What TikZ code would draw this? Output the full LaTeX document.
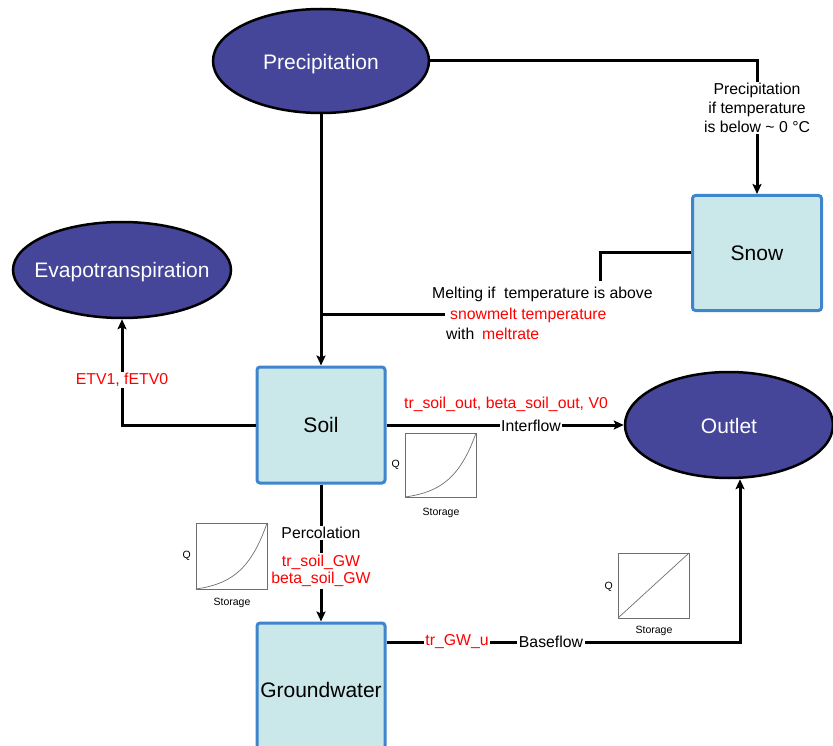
\documentclass[tikz,border=0pt]{standalone}
\usepackage{fontspec}
\setmainfont{Liberation Sans}
\usetikzlibrary{shapes.geometric,arrows.meta}
\definecolor{ellfill}{RGB}{69,69,153}
\definecolor{boxfill}{RGB}{202,231,234}
\definecolor{boxedge}{RGB}{61,133,204}
\definecolor{lblred}{RGB}{255,0,0}
\definecolor{plotgray}{RGB}{110,110,110}
\begin{document}
\begin{tikzpicture}[x=1pt,y=-1pt,
 store/.style={ellipse, draw=black, line width=2.5pt, fill=ellfill, text=white, font=\fontsize{21}{25}\selectfont, inner sep=0pt},
 tank/.style={rectangle, rounded corners=3pt, draw=boxedge, line width=3pt, fill=boxfill, font=\fontsize{21}{25}\selectfont, minimum width=128pt, minimum height=116pt, inner sep=0pt},
 flow/.style={line width=3pt, draw=black},
 arr/.style={flow, -{Stealth[length=10pt,width=9pt,inset=2pt]}},
 lbl/.style={fill=white, inner sep=1.5pt, font=\fontsize{15.8}{19}\selectfont, align=center},
 par/.style={lbl, text=lblred},
 txt/.style={inner sep=0pt, font=\fontsize{15.8}{19}\selectfont, anchor=west},
 axisbox/.style={draw=plotgray, line width=0.8pt},
 curve/.style={draw=plotgray, line width=0.7pt},
 small/.style={font=\fontsize{10.5}{12}\selectfont, inner sep=0pt}
]
\useasboundingbox (0,0) rectangle (833,746);
\clip (0,0) rectangle (833,746);

% stores
\node[store, minimum width=216pt, minimum height=104pt] (precip) at (321,61) {\makebox[0pt]{\raisebox{-8.5pt}[0pt][0pt]{Precipitation}}};
\node[store, minimum width=218pt, minimum height=96pt] (evapo) at (122,270) {\makebox[0pt]{\raisebox{-7.5pt}[0pt][0pt]{Evapotranspiration}}};
\node[store, minimum width=208pt, minimum height=106pt] (outlet) at (729,425) {\makebox[0pt]{\raisebox{-8.5pt}[0pt][0pt]{Outlet}}};

% tanks
\node[tank, minimum width=129pt, minimum height=115pt] (snow) at (757,253) {Snow};
\node[tank] (soil) at (321,425) {Soil};
\node[tank, minimum height=136pt] (gw) at (321,691) {\raisebox{2pt}{Groundwater}};

% connectors
\draw[arr] (precip.east) -| (snow.north);
\draw[arr] (precip.south) -- (soil.north);
\coordinate (mj) at (321,314);
\coordinate (me) at (445,314);
\draw[flow] (mj) -- (me);
\coordinate (ms) at (600,281);
\draw[flow] (snow.west) -| (ms);
\draw[arr] (soil.west) -| (evapo.south);
\draw[arr] (soil.east) -- (outlet.west);
\draw[arr] (soil.south) -- (gw.north);
\coordinate (bf) at (740,642);
\draw[arr] (gw.east |- bf) -- (bf) -- (bf |- outlet.south);

% labels
\node[lbl] (lprec) at (757,108) {Precipitation\\if temperature\\is below {\textasciitilde} 0 °C};
\node[txt] (lmelt1) at (432,294) {Melting if\ \ temperature is above};
\node[txt, text=lblred] (lmelt2) at (450,315) {snowmelt temperature};
\node[txt] (lmelt3) at (446,334) {with};
\node[txt, text=lblred] (lmelt4) at (482,334) {meltrate};
\node[par] (letv) at (122,380) {ETV1, fETV0};
\node[par, fill=none] (lint) at (506,404) {tr\_soil\_out, beta\_soil\_out, V0};
\node[lbl] (linter) at (531,426) {Interflow};
\node[lbl] (lperc) at (321,533) {Percolation};
\node[par, font=\fontsize{15.8}{17.5}\selectfont] (lpercp) at (321,571) {tr\_soil\_GW\\beta\_soil\_GW};
\node[par] (lgw) at (457,642) {tr\_GW\_u};
\node[lbl] (lbase) at (551,642) {Baseflow};

% plot 1 (interflow)
\begin{scope}[shift={(405,433)}]
 \draw[axisbox] (0,0) rectangle (71,64);
 \draw[curve] plot[domain=0:1,samples=40] ({71*\x},{64-64*(exp(3*\x)-1)/(exp(3)-1)});
 \node[small, anchor=east] (q1) at (-5,32) {Q};
 \node[small] (s1) at (36,80) {Storage};
\end{scope}

% plot 2 (percolation)
\begin{scope}[shift={(196,523)}]
 \draw[axisbox] (0,0) rectangle (71,66);
 \draw[curve] plot[domain=0:1,samples=40] ({71*\x},{66-66*(exp(3*\x)-1)/(exp(3)-1)});
 \node[small, anchor=east] (q2) at (-5,33) {Q};
 \node[small] (s2) at (36,80) {Storage};
\end{scope}

% plot 3 (baseflow)
\begin{scope}[shift={(618,553)}]
 \draw[axisbox] (0,0) rectangle (71,65);
 \draw[curve] (0,65) -- (71,0);
 \node[small, anchor=east] (q3) at (-5,34) {Q};
 \node[small] (s3) at (36,78) {Storage};
\end{scope}
\end{tikzpicture}
\end{document}
